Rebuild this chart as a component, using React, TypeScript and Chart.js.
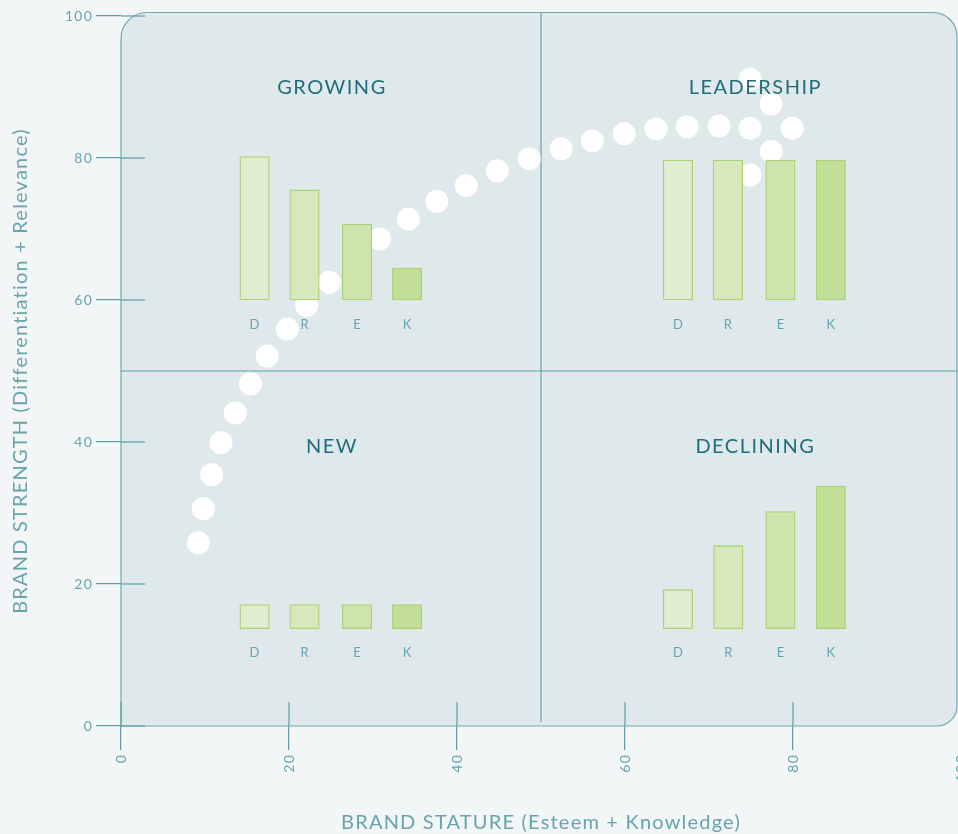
import { useEffect, useRef } from 'react';
import { Chart, registerables } from 'chart.js';

Chart.register(...registerables);

// ---- data ----
const barLetters = ['D', 'R', 'E', 'K'];
const quadrantNames = ['GROWING', 'LEADERSHIP', 'NEW', 'DECLINING'];

const growingX = [15.9, 21.85, 28.1, 34.05];
const growingBase = [60.0, 60.0, 60.0, 60.0];
const growingTop = [80.2, 75.5, 70.7, 64.5];

const leadershipX = [66.3, 72.25, 78.5, 84.5];
const leadershipBase = [60.0, 60.0, 60.0, 60.0];
const leadershipTop = [79.7, 79.7, 79.7, 79.7];

const newX = [15.9, 21.85, 28.1, 34.05];
const newBase = [13.7, 13.7, 13.7, 13.7];
const newTop = [17.1, 17.1, 17.1, 17.1];

const decliningX = [66.3, 72.3, 78.5, 84.5];
const decliningBase = [13.7, 13.7, 13.7, 13.7];
const decliningTop = [19.2, 25.4, 30.2, 33.8];

const pathX = [9.2, 9.8, 10.8, 11.9, 13.6, 15.4, 17.4, 19.8, 22.1, 24.8, 27.9, 30.8, 34.2, 37.6, 41.1, 44.8, 48.6, 52.4, 56.1, 59.9, 63.7, 67.4, 71.2, 74.9, 79.9];
const pathY = [25.8, 30.6, 35.4, 39.9, 44.1, 48.2, 52.1, 55.9, 59.2, 62.5, 65.6, 68.6, 71.4, 73.9, 76.1, 78.2, 79.9, 81.3, 82.4, 83.4, 84.1, 84.4, 84.5, 84.2, 84.2];
const arrowX = [74.9, 77.4, 77.4, 74.9];
const arrowY = [91.1, 87.6, 80.9, 77.6];

const xTickValues = [0, 20, 40, 60, 80, 100];
const yTickValues = [0, 20, 40, 60, 80, 100];

const xTitle = 'BRAND STATURE (Esteem + Knowledge)';
const yTitle = 'BRAND STRENGTH (Differentiation + Relevance)';

// ---- styles ----
const PAGE_BG = '#f2f6f7';
const PANEL_BG = '#dfe8ea';
const LINE = '#6ea8b0';
const DIVIDER = '#5f9da6';
const TICK_TEXT = '#68a4ad';
const TITLE_TEXT = '#1f6e7a';
const FONT = 'Lato';
const barFills = ['#e1edd0', '#d8e8bd', '#cee4ad', '#c2de97'];
const barBorder = '#a9d475';

const W = 980;
const H = 834;

const decorPlugin = {
  id: 'decor',
  beforeDraw(chart: any) {
    const { ctx, chartArea: a } = chart;
    ctx.save();
    ctx.fillStyle = PAGE_BG;
    ctx.fillRect(0, 0, chart.width, chart.height);
    ctx.beginPath();
    (ctx as any).roundRect(a.left, a.top - 3.5, a.right - 4 - a.left, a.bottom - a.top + 3.5, [26, 24, 20, 0]);
    ctx.fillStyle = PANEL_BG;
    ctx.fill();
    ctx.restore();
    (ctx as any).letterSpacing = '1.2px';
  },
  beforeDatasetsDraw(chart: any) {
    const { ctx, chartArea: a, scales } = chart;
    const xs = scales.x;
    const ys = scales.y;
    ctx.save();
    // panel border
    ctx.beginPath();
    (ctx as any).roundRect(a.left, a.top - 3.5, a.right - 4 - a.left, a.bottom - a.top + 3.5, [26, 24, 20, 0]);
    ctx.strokeStyle = LINE;
    ctx.lineWidth = 1.2;
    ctx.stroke();
    // inner tick stubs
    ctx.strokeStyle = DIVIDER;
    ctx.lineWidth = 1.2;
    ys.ticks.forEach((t: any) => {
      const y = ys.getPixelForValue(t.value);
      ctx.beginPath();
      ctx.moveTo(a.left, y);
      ctx.lineTo(a.left + 24, y);
      ctx.stroke();
    });
    xs.ticks.forEach((t: any) => {
      const x = xs.getPixelForValue(t.value);
      ctx.beginPath();
      ctx.moveTo(x, a.bottom);
      ctx.lineTo(x, a.bottom - 24);
      ctx.stroke();
    });
    // quadrant dividers
    const mx = xs.getPixelForValue(50);
    const my = ys.getPixelForValue(50);
    ctx.strokeStyle = DIVIDER;
    ctx.lineWidth = 1.1;
    ctx.beginPath();
    ctx.moveTo(mx, a.top - 3.5);
    ctx.lineTo(mx, a.bottom - 4);
    ctx.moveTo(a.left, my);
    ctx.lineTo(a.right - 4, my);
    ctx.stroke();
    ctx.restore();
  },
  afterDatasetsDraw(chart: any) {
    const { ctx, scales } = chart;
    const xs = scales.x;
    const ys = scales.y;
    ctx.save();
    // quadrant titles
    (ctx as any).letterSpacing = '1.5px';
    ctx.font = `20px ${FONT}`;
    ctx.fillStyle = TITLE_TEXT;
    ctx.textAlign = 'center';
    ctx.textBaseline = 'middle';
    const pos = [[25, 89.9], [75.4, 89.9], [25, 39.3], [75.4, 39.3]];
    quadrantNames.forEach((n, i) => {
      ctx.fillText(n, xs.getPixelForValue(pos[i][0]) + 1, ys.getPixelForValue(pos[i][1]));
    });
    // bar letters
    (ctx as any).letterSpacing = '0px';
    ctx.font = `13px ${FONT}`;
    ctx.fillStyle = TICK_TEXT;
    chart.data.datasets.forEach((ds: any, di: number) => {
      if (ds.type !== 'bar') return;
      const meta = chart.getDatasetMeta(di);
      meta.data.forEach((el: any) => {
        const bottom = Math.max(el.y, el.base);
        ctx.fillText(ds.label, el.x, bottom + 24.5);
      });
    });
    ctx.restore();
  },
};

export default function App() {
  const ref = useRef<HTMLCanvasElement | null>(null);
  useEffect(() => {
    document.body.style.margin = '0';
    document.body.style.background = PAGE_BG;
    const canvas = ref.current;
    if (!canvas) return;
    const xsets = [growingX, leadershipX, newX, decliningX];
    const bases = [growingBase, leadershipBase, newBase, decliningBase];
    const tops = [growingTop, leadershipTop, newTop, decliningTop];
    const barDatasets = barLetters.map((letter, li) => ({
      type: 'bar' as const,
      label: letter,
      data: xsets.map((xa, qi) => ({ x: xa[li], y: [bases[qi][li], tops[qi][li]] })),
      backgroundColor: barFills[li],
      borderColor: barBorder,
      borderWidth: 1.3,
      borderSkipped: false,
      barThickness: 29.5,
      grouped: false,
      order: 1,
    }));
    const chart = new Chart(canvas, {
      type: 'scatter',
      data: {
        datasets: [
          {
            type: 'scatter',
            label: 'path',
            data: pathX.map((x, i) => ({ x, y: pathY[i] })).concat(arrowX.map((x, i) => ({ x, y: arrowY[i] }))),
            pointRadius: 11.5,
            pointHoverRadius: 11.5,
            backgroundColor: '#ffffff',
            borderWidth: 0,
            order: 10,
          } as any,
          ...(barDatasets as any[]),
        ],
      },
      options: {
        animation: false,
        responsive: false,
        devicePixelRatio: 1,
        layout: { padding: { top: 16, left: 0, right: W - 961, bottom: 0 } },
        plugins: { legend: { display: false }, tooltip: { enabled: false } },
        events: [],
        scales: {
          x: {
            type: 'linear',
            min: 0,
            max: 100,
            offset: false,
            border: { display: false },
            grid: { display: true, drawOnChartArea: false, drawTicks: true, tickLength: 24, color: DIVIDER, lineWidth: 1.2, offset: false },
            ticks: { color: TICK_TEXT, font: { family: FONT, size: 14 }, padding: 4, minRotation: 90, maxRotation: 90, autoSkip: false },
            afterBuildTicks: (s: any) => { s.ticks = xTickValues.map((v) => ({ value: v })); },
            afterFit: (s: any) => { s.height = 108; s.paddingLeft = 0; s.paddingRight = 0; },
            title: { display: true, text: xTitle, color: TICK_TEXT, font: { family: FONT, size: 20, lineHeight: 1.1 }, padding: { top: 0, bottom: 0 } },
          },
          y: {
            type: 'linear',
            min: 0,
            max: 100,
            border: { display: false },
            grid: { display: true, drawOnChartArea: false, drawTicks: true, tickLength: 25, color: DIVIDER, lineWidth: 1.2 },
            ticks: { color: TICK_TEXT, font: { family: FONT, size: 14 }, padding: 3, autoSkip: false },
            afterBuildTicks: (s: any) => { s.ticks = yTickValues.map((v) => ({ value: v })); },
            afterFit: (s: any) => { s.width = 121; s.paddingTop = 0; s.paddingBottom = 0; },
            title: { display: true, text: yTitle, color: TICK_TEXT, font: { family: FONT, size: 20, lineHeight: 1.1 }, padding: { top: 10, bottom: 0 } },
          },
        },
      },
      plugins: [decorPlugin],
    } as any);
    return () => chart.destroy();
  }, []);
  return (
    <div style={{ position: 'absolute', left: 0, top: 0, width: 958, height: 834, overflow: 'hidden', background: PAGE_BG }}>
      <canvas ref={ref} width={W} height={H} style={{ display: 'block', width: W, height: H }} />
    </div>
  );
}
